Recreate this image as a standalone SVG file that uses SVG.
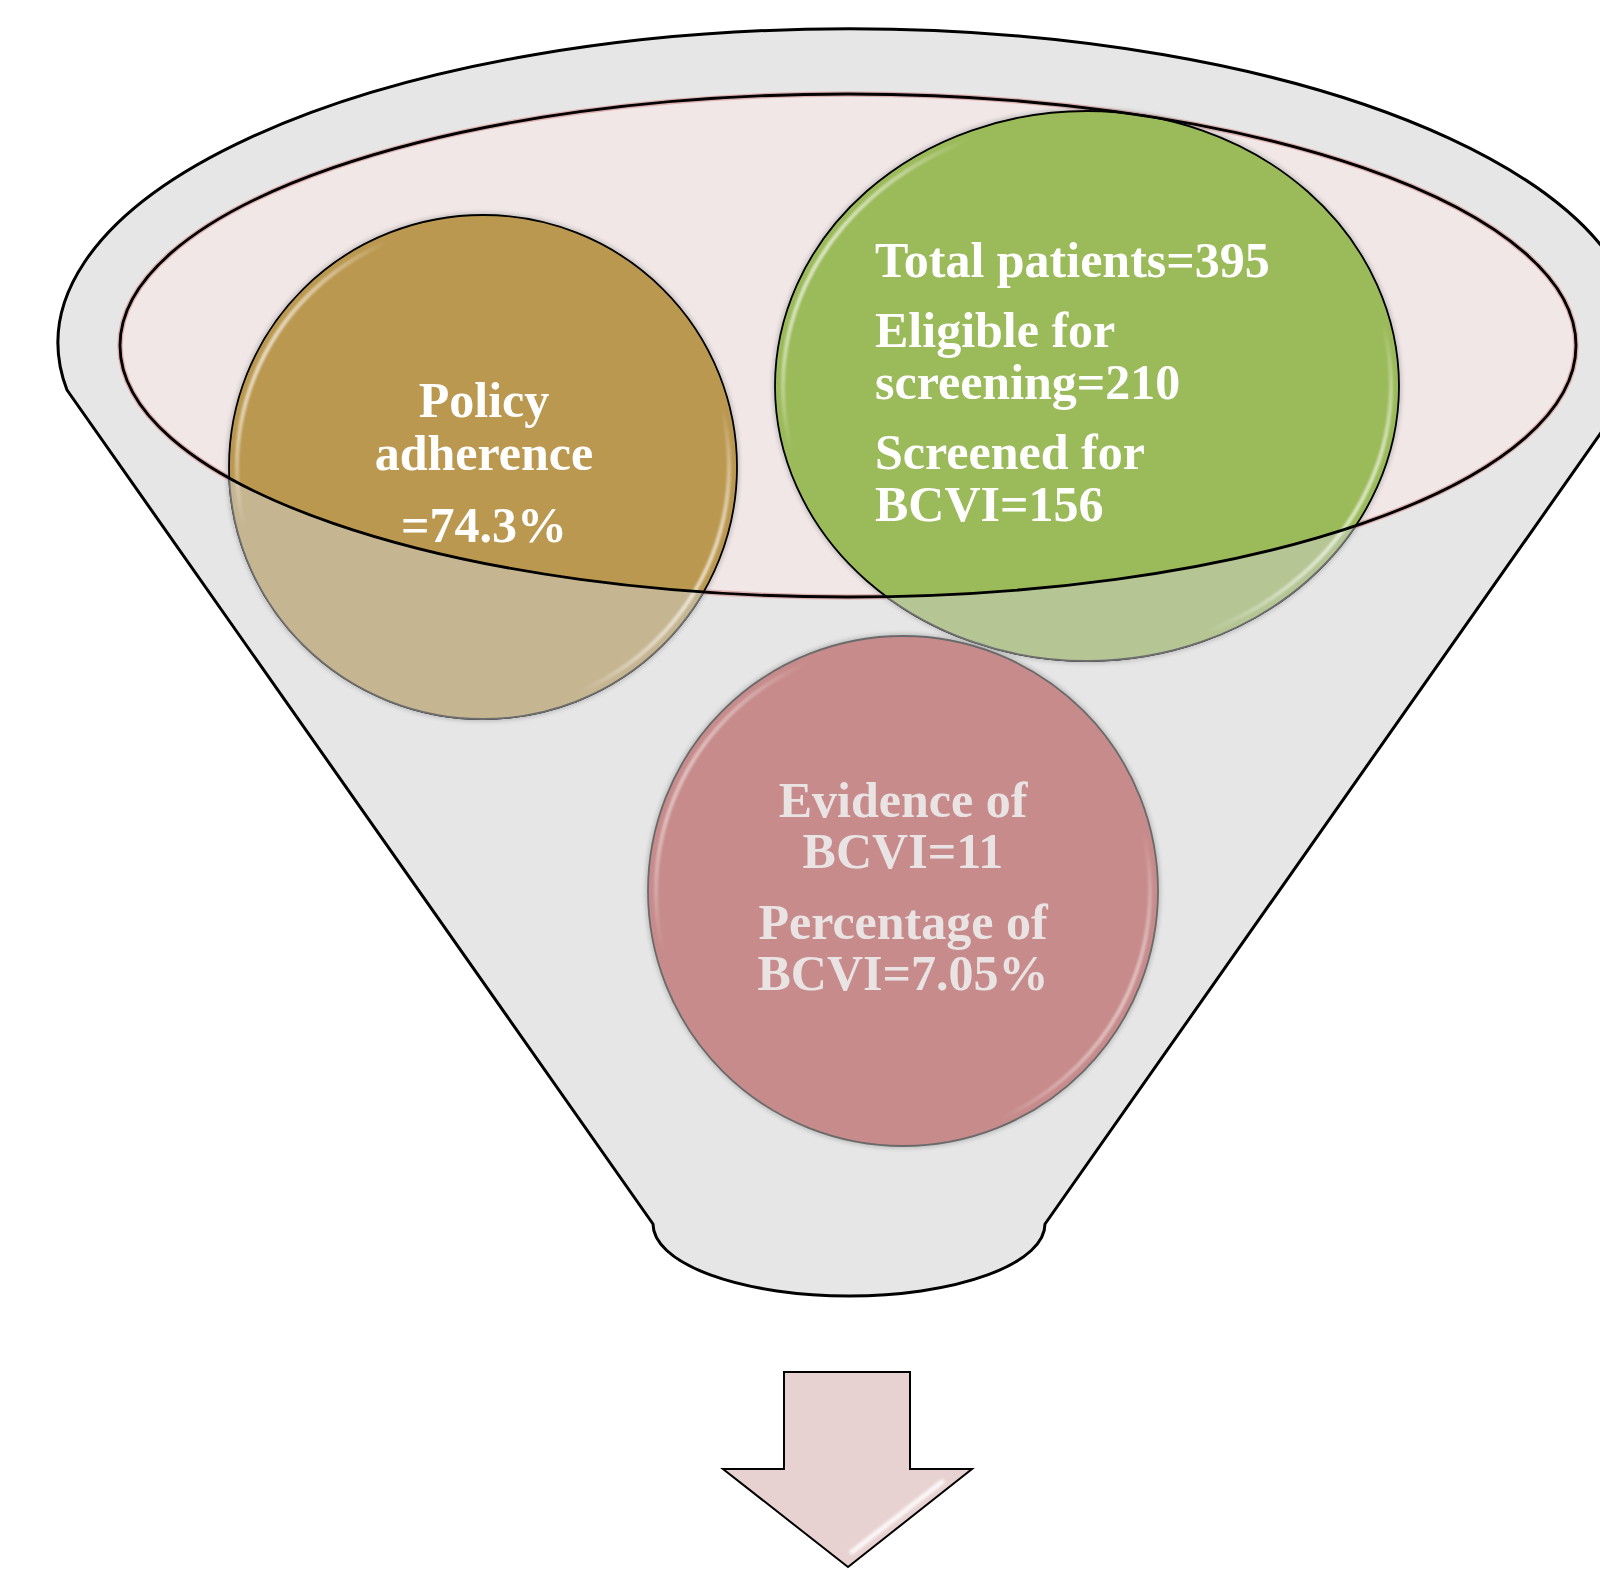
<svg xmlns="http://www.w3.org/2000/svg" width="1600" height="1570" viewBox="0 0 1600 1570">
  <defs>
    <style>
      .lbl { font-family: "Liberation Serif", "Times New Roman", serif; font-weight: bold; font-size: 50px; fill: #ffffff; }
      .mid { text-anchor: middle; }
      .dim { fill: #E9E3E3; }
      .edge { fill: none; stroke: #000000; stroke-width: 2.8; }
      .halo { fill: none; stroke: #8a8a8a; stroke-width: 5; opacity: 0.45; filter: url(#blur2); }
      .rim { fill: none; stroke: url(#rimGrad); stroke-width: 4; filter: url(#blur1); }
      .shine { fill: none; stroke: #ffffff; stroke-width: 5; stroke-linecap: round; opacity: 0.85; filter: url(#blur15); }
    </style>
    <!-- region of the funnel body outside the mouth ellipse -->
    <clipPath id="belowMouth">
      <path clip-rule="evenodd" d="M0 0H1600V1570H0Z M120 345.5A728 251.5 0 1 0 1576 345.5A728 251.5 0 1 0 120 345.5Z"/>
    </clipPath>
    <linearGradient id="rimGrad" x1="0" y1="0.25" x2="1" y2="0.75">
      <stop offset="0" stop-color="#ffffff" stop-opacity="0.95"/>
      <stop offset="0.16" stop-color="#ffffff" stop-opacity="0"/>
      <stop offset="0.84" stop-color="#ffffff" stop-opacity="0"/>
      <stop offset="1" stop-color="#ffffff" stop-opacity="0.95"/>
    </linearGradient>
    <filter id="blur1" x="-10%" y="-10%" width="120%" height="120%"><feGaussianBlur stdDeviation="1"/></filter>
    <filter id="blur15" x="-20%" y="-20%" width="140%" height="140%"><feGaussianBlur stdDeviation="1.5"/></filter>
    <filter id="blur2" x="-10%" y="-10%" width="120%" height="120%"><feGaussianBlur stdDeviation="2"/></filter>
  </defs>

  <rect width="1600" height="1570" fill="#ffffff"/>

  <!-- funnel body -->
  <g id="funnel">
    <path d="M67 390L653 1224A196 72 0 0 0 1045 1224L1631 390A791 314 0 1 0 67 390Z" fill="#E6E6E6" stroke="#000000" stroke-width="3" stroke-linejoin="round"/>
  </g>

  <!-- funnel mouth -->
  <g id="mouth">
    <ellipse cx="848" cy="345.5" rx="728" ry="251.5" fill="#F2E7E7" stroke="#DDB0B0" stroke-width="5.5"/>
  </g>

  <!-- Policy adherence -->
  <g id="node-policy">
    <ellipse class="halo" cx="483" cy="467" rx="254" ry="252"/>
    <ellipse cx="483" cy="467" rx="254" ry="252" fill="#BB9850" stroke="#000000" stroke-width="1.8"/>
    <ellipse clip-path="url(#belowMouth)" cx="483" cy="467" rx="254" ry="252" fill="#C6B591" stroke="#6E6E6E" stroke-width="1.8"/>
    <ellipse class="rim" cx="483" cy="467" rx="246" ry="244"/>
  </g>

  <!-- Patient counts -->
  <g id="node-patients">
    <ellipse class="halo" cx="1087" cy="386" rx="312" ry="275"/>
    <ellipse cx="1087" cy="386" rx="312" ry="275" fill="#9BBA59" stroke="#000000" stroke-width="1.8"/>
    <ellipse clip-path="url(#belowMouth)" cx="1087" cy="386" rx="312" ry="275" fill="#B5C694" stroke="#6E6E6E" stroke-width="1.8"/>
    <ellipse class="rim" cx="1087" cy="386" rx="304" ry="267"/>
  </g>

  <!-- BCVI findings -->
  <g id="node-bcvi">
    <circle class="halo" cx="903" cy="891" r="255"/>
    <circle cx="903" cy="891" r="255" fill="#C78B8B" stroke="#6A6A6A" stroke-width="1.8"/>
    <circle class="rim" cx="903" cy="891" r="247" opacity="0.7"/>
  </g>

  <!-- mouth outline drawn over the circles -->
  <ellipse class="edge" cx="848" cy="345.5" rx="728" ry="251.5"/>

  <!-- labels -->
  <g id="labels">
    <text class="lbl mid" x="484" y="417">Policy</text>
    <text class="lbl mid" x="484" y="470">adherence</text>
    <text class="lbl mid" x="484" y="542">=74.3%</text>

    <text class="lbl" x="875" y="277">Total patients=395</text>
    <text class="lbl" x="875" y="347">Eligible for</text>
    <text class="lbl" x="875" y="399">screening=210</text>
    <text class="lbl" x="875" y="469">Screened for</text>
    <text class="lbl" x="875" y="521">BCVI=156</text>

    <text class="lbl mid dim" x="903" y="817">Evidence of</text>
    <text class="lbl mid dim" x="903" y="868">BCVI=11</text>
    <text class="lbl mid dim" x="903" y="939">Percentage of</text>
    <text class="lbl mid dim" x="903" y="990">BCVI=7.05%</text>
  </g>

  <!-- down arrow -->
  <g id="arrow">
    <path d="M784 1372H910V1469H972L848 1567L723 1469H784Z" fill="#E8D1D1" stroke="#000000" stroke-width="2" stroke-linejoin="miter"/>
    <path class="shine" d="M797 1382V1480"/>
    <path class="shine" d="M899 1382V1480"/>
    <path class="shine" d="M942 1482L852 1552" opacity="0.6"/>
  </g>
</svg>
